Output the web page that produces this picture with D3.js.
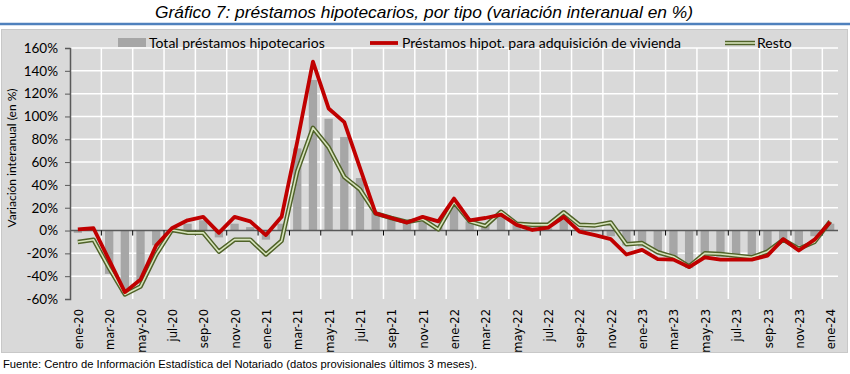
<!DOCTYPE html>
<html>
<head>
<meta charset="utf-8">
<script src="https://cdn.jsdelivr.net/npm/d3@7"></script>
<style>
  body { margin: 0; background: #ffffff; }
</style>
</head>
<body>
<svg id="chart" width="850" height="374"></svg>
<script>

// months (ene-20 .. ene-24)
const months = ["ene-20","feb-20","mar-20","abr-20","may-20","jun-20","jul-20","ago-20","sep-20","oct-20","nov-20","dic-20",
                "ene-21","feb-21","mar-21","abr-21","may-21","jun-21","jul-21","ago-21","sep-21","oct-21","nov-21","dic-21",
                "ene-22","feb-22","mar-22","abr-22","may-22","jun-22","jul-22","ago-22","sep-22","oct-22","nov-22","dic-22",
                "ene-23","feb-23","mar-23","abr-23","may-23","jun-23","jul-23","ago-23","sep-23","oct-23","nov-23","dic-23",
                "ene-24"]

// Total préstamos hipotecarios (bars)
const total = [-2, 0.5, -38, -55, -45, -13, 1, 6, 9, -6, 6, 3,
               -8, 6, 72, 132, 98, 82, 46, 16, 10, 6, 9, 3,
               25, 8, 6, 15, 6, 3, 2, 14, 2, -1, -5, -13,
               -14, -20, -23, -33, -22, -23, -23, -24, -20, -8, -13, -5,
               6]

// Préstamos hipot. para adquisición de vivienda (red line)
const vivienda = [1, 2, -26, -54, -43, -13, 2, 9, 12, -2, 12, 8,
                  -4, 12, 78, 148, 107, 95, 55, 15, 11, 7, 12, 8,
                  28, 9, 11, 14, 5, 0.5, 2.5, 12, -1, -4, -7.5, -21,
                  -17, -25, -25.5, -32, -23.5, -25.5, -25.5, -25.5, -22, -7.5, -17.5, -8,
                  7.5]

// Resto (double green line)
const resto = [-10, -8, -33, -56, -49, -21, 0.5, -2, -2, -18.5, -8, -8,
               -21, -9, 52, 90, 73, 47, 36, 15, 11, 7.5, 10, 1,
               25, 8, 4, 16.5, 6, 5, 5, 16, 5, 4.5, 7, -12,
               -11, -19, -23, -31.5, -20, -20.5, -22, -23.5, -18.5, -8, -16, -10,
               8]

const yTicks = [-60, -40, -20, 0, 20, 40, 60, 80, 100, 120, 140, 160]

const seriesNames = ["Total préstamos hipotecarios", "Préstamos hipot. para adquisición de vivienda", "Resto"]

const svg = d3.select('#chart')

// TITLE
svg.append('text')
    .attr('x', 424)
    .attr('y', 18)
    .attr('text-anchor', 'middle')
    .attr('font-family', '"Liberation Sans Narrow", "Liberation Sans", Arial, sans-serif')
    .attr('font-style', 'italic')
    .attr('font-size', 17)
    .attr('fill', '#000')
    .attr('textLength', 538)
    .attr('lengthAdjust', 'spacingAndGlyphs')
    .text("Gráfico 7: préstamos hipotecarios, por tipo (variación interanual en %)")

svg.append('line')
    .attr('x1', 0).attr('x2', 850)
    .attr('y1', 24).attr('y2', 24)
    .attr('stroke', '#4f81bd')
    .attr('stroke-width', 2.5)

// CHART BACKGROUND
svg.append('rect')
    .attr('x', 1.5).attr('y', 29.5)
    .attr('width', 846).attr('height', 323)
    .attr('fill', '#d9d9d9')
    .attr('stroke', '#c8c8c8')

let margins = {left: 70, right: 838, top: 48, bottom: 299}

let x = d3.scaleBand()
    .domain(months)
    .range([margins.left, margins.right])
    .paddingInner(0.47)
    .paddingOuter(0.235)

let y = d3.scaleLinear()
    .domain([-60, 160])
    .range([margins.bottom, margins.top])

let step = x.step()
let gap = (step - x.bandwidth()) / 2
let cx = d => x(d) + x.bandwidth() / 2

// GRIDLINES
let grid = svg.append('g')
grid.selectAll('.hgrid')
    .data(yTicks.filter(d => d !== 0 && d !== -60))
    .enter()
    .append('line')
    .attr('x1', margins.left).attr('x2', margins.right)
    .attr('y1', d => y(d)).attr('y2', d => y(d))
    .attr('stroke', '#ffffff')
    .attr('stroke-width', 1.5)

let evenMonths = months.filter((d, i) => i % 2 === 0)
grid.selectAll('.vgrid')
    .data(evenMonths.slice(1))
    .enter()
    .append('line')
    .attr('x1', d => x(d) - gap).attr('x2', d => x(d) - gap)
    .attr('y1', margins.top).attr('y2', margins.bottom)
    .attr('stroke', '#ffffff')
    .attr('stroke-width', 1.5)

// BARS
svg.append('g')
    .selectAll('.bar')
    .data(months)
    .enter()
    .append('rect')
    .attr('x', d => x(d))
    .attr('width', x.bandwidth())
    .attr('y', (d, i) => y(Math.max(0, total[i])))
    .attr('height', (d, i) => Math.abs(y(total[i]) - y(0)))
    .attr('fill', '#a6a6a6')

// ZERO LINE + TICKS
svg.append('line')
    .attr('x1', margins.left).attr('x2', margins.right)
    .attr('y1', y(0)).attr('y2', y(0))
    .attr('stroke', '#595959')
    .attr('stroke-width', 1.5)

svg.append('g')
    .selectAll('line')
    .data(evenMonths.slice(1))
    .enter()
    .append('line')
    .attr('x1', d => x(d) - gap).attr('x2', d => x(d) - gap)
    .attr('y1', y(0)).attr('y2', y(0) + 5)
    .attr('stroke', '#000')
    .attr('stroke-width', 1)

// LINES
let line = d3.line()
    .x((d, i) => cx(months[i]))
    .y(d => y(d))

svg.append('path')
    .datum(resto)
    .attr('d', line)
    .attr('fill', 'none')
    .attr('stroke', '#4f6228')
    .attr('stroke-width', 4.5)
    .attr('stroke-linejoin', 'round')

svg.append('path')
    .datum(resto)
    .attr('d', line)
    .attr('fill', 'none')
    .attr('stroke', '#d7e4bd')
    .attr('stroke-width', 1.6)
    .attr('stroke-linejoin', 'round')

svg.append('path')
    .datum(vivienda)
    .attr('d', line)
    .attr('fill', 'none')
    .attr('stroke', '#c00000')
    .attr('stroke-width', 3.8)
    .attr('stroke-linejoin', 'round')

// Y AXIS
let yAxis = svg.append('g')
    .attr('transform', `translate(${margins.left},0)`)
    .call(d3.axisLeft(y).tickValues(yTicks).tickSize(5).tickFormat(d => d + '%'))
yAxis.select('.domain').attr('stroke', '#595959').attr('stroke-width', 1.5)
yAxis.selectAll('.tick line').attr('stroke', '#595959')
yAxis.selectAll('text')
    .attr('font-family', 'Lato, "Open Sans", sans-serif')
    .attr('font-size', 13.5)
    .attr('fill', '#000')
    .attr('x', -12)

// Y AXIS LABEL
svg.append('text')
    .attr('transform', `translate(16, 158) rotate(-90)`)
    .attr('text-anchor', 'middle')
    .attr('font-family', 'Lato, "Open Sans", sans-serif')
    .attr('font-size', 12)
    .attr('fill', '#000')
    .text("Variación interanual (en %)")

// X AXIS LABELS
svg.append('g')
    .selectAll('text')
    .data(evenMonths)
    .enter()
    .append('text')
    .attr('transform', d => `translate(${cx(d) + 1}, ${margins.bottom + 10}) rotate(-90)`)
    .attr('text-anchor', 'end')
    .attr('dy', '0.35em')
    .attr('font-family', '"DejaVu Sans", Verdana, sans-serif')
    .attr('font-size', 11.5)
    .attr('fill', '#000')
    .text(d => d)

// LEGEND
let legend = svg.append('g')
    .attr('font-family', 'Lato, "Open Sans", sans-serif')
    .attr('font-size', 14)
    .attr('fill', '#000')

legend.append('rect')
    .attr('x', 118).attr('y', 38)
    .attr('width', 28).attr('height', 9)
    .attr('fill', '#a6a6a6')
legend.append('text').attr('x', 149).attr('y', 47.5).text(seriesNames[0])

legend.append('line')
    .attr('x1', 370).attr('x2', 398)
    .attr('y1', 43).attr('y2', 43)
    .attr('stroke', '#c00000').attr('stroke-width', 3.8)
legend.append('text').attr('x', 402).attr('y', 47.5).text(seriesNames[1])

legend.append('line')
    .attr('x1', 725).attr('x2', 755)
    .attr('y1', 43).attr('y2', 43)
    .attr('stroke', '#4f6228').attr('stroke-width', 4.5)
legend.append('line')
    .attr('x1', 725).attr('x2', 755)
    .attr('y1', 43).attr('y2', 43)
    .attr('stroke', '#d7e4bd').attr('stroke-width', 1.6)
legend.append('text').attr('x', 757).attr('y', 47.5).text(seriesNames[2])

// SOURCE
svg.append('text')
    .attr('x', 3)
    .attr('y', 368)
    .attr('font-family', '"Liberation Sans", Arial, sans-serif')
    .attr('font-size', 11)
    .attr('fill', '#000')
    .attr('textLength', 474)
    .attr('lengthAdjust', 'spacingAndGlyphs')
    .text("Fuente: Centro de Información Estadística del Notariado (datos provisionales últimos 3 meses).")

</script>
</body>
</html>
